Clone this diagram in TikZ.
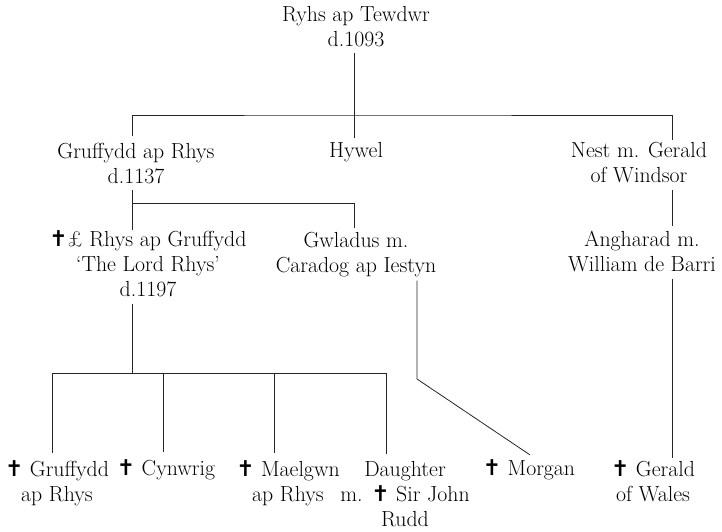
\documentclass[tikz,border=0pt]{standalone}
\usepackage{fontspec}
\newfontfamily\crossfont{DejaVu Sans}
\newcommand{\dcross}{{\crossfont ✝}}

\begin{document}
\begin{tikzpicture}[x=1pt, y=-1pt,
        person/.style={align=center, inner sep=0pt, anchor=base,
            font=\fontsize{21.8}{25}\selectfont, text=black},
        link/.style={line width=0.8pt, draw=black!85}]
        \useasboundingbox (0,0) rectangle (722,532);

        % First generation (positions are baselines of the last line)
        \node[person] (rhys) at (356,47) {Ryhs ap Tewdwr\\d.1093};

        % Second generation
        \node[person] (gruffydd) at (136,183) {Gruffydd ap Rhys\\d.1137};
        \node[person] (hywel) at (356,157) {Hywel};
        \node[person] (nest) at (639,182) {Nest m. Gerald\\of Windsor};

        % Third generation
        \node[person] (lordrhys) at (148,296) {\dcross£ Rhys ap Gruffydd\\‘The Lord Rhys’\\d.1197};
        \node[person] (gwladus) at (356,272) {Gwladus m.\\Caradog ap Iestyn};
        \node[person] (angharad) at (642,271) {Angharad m.\\William de Barri};

        % Fourth generation
        \node[person] (gruffyddII) at (57,501) {\dcross{} Gruffydd\\ap Rhys};
        \node[person] (cynwrig) at (166,475) {\dcross{} Cynwrig};
        \node[person] (maelgwn) at (288,501) {\dcross{} Maelgwn\\ap Rhys};
        \node[person] (daughter) at (405,526) {Daughter\\m. \dcross{} Sir John\\Rudd};
        \node[person] (morgan) at (529,475) {\dcross{} Morgan};
        \node[person] (gerald) at (653,501) {\dcross{} Gerald\\of Wales};

        % Junctions of the bars
        \coordinate (j1) at (354,115);
        \coordinate (j2) at (132,203);
        \coordinate (j3) at (132,373);
        \coordinate (bend) at (417,379);

        % Descent lines
        \draw[link] ([xshift=-2pt,yshift=-5pt]rhys.south) -- ([xshift=-2pt,yshift=4pt]hywel.north);
        \draw[link] ([xshift=-4pt,yshift=6pt]gruffydd.north) |- (j1) -| ([xshift=33pt,yshift=2pt]nest.north);
        \draw[link] ([xshift=-4pt,yshift=-6pt]gruffydd.south) -- ([xshift=-16pt]lordrhys.north);
        \draw[link] (j2) -| ([xshift=-2pt,yshift=4pt]gwladus.north);
        \draw[link] ([xshift=-16pt,yshift=-7pt]lordrhys.south) -- (j3);
        \foreach \kid/\dx in {gruffyddII/-5, cynwrig/-3, maelgwn/-14, daughter/-19} {
                \draw[link] (j3) -| ([xshift=\dx pt,yshift=7pt]\kid.north);
            }
        \draw[link] ([xshift=61pt,yshift=-4pt]gwladus.south) -- (bend) -- ([xshift=1pt,yshift=4pt]morgan.north);
        \draw[link] ([xshift=33pt,yshift=-7pt]nest.south) -- ([xshift=30pt,yshift=4pt]angharad.north);
        \draw[link] ([xshift=30pt,yshift=-7pt]angharad.south) -- ([xshift=19pt,yshift=2pt]gerald.north);
    \end{tikzpicture}
\end{document}
